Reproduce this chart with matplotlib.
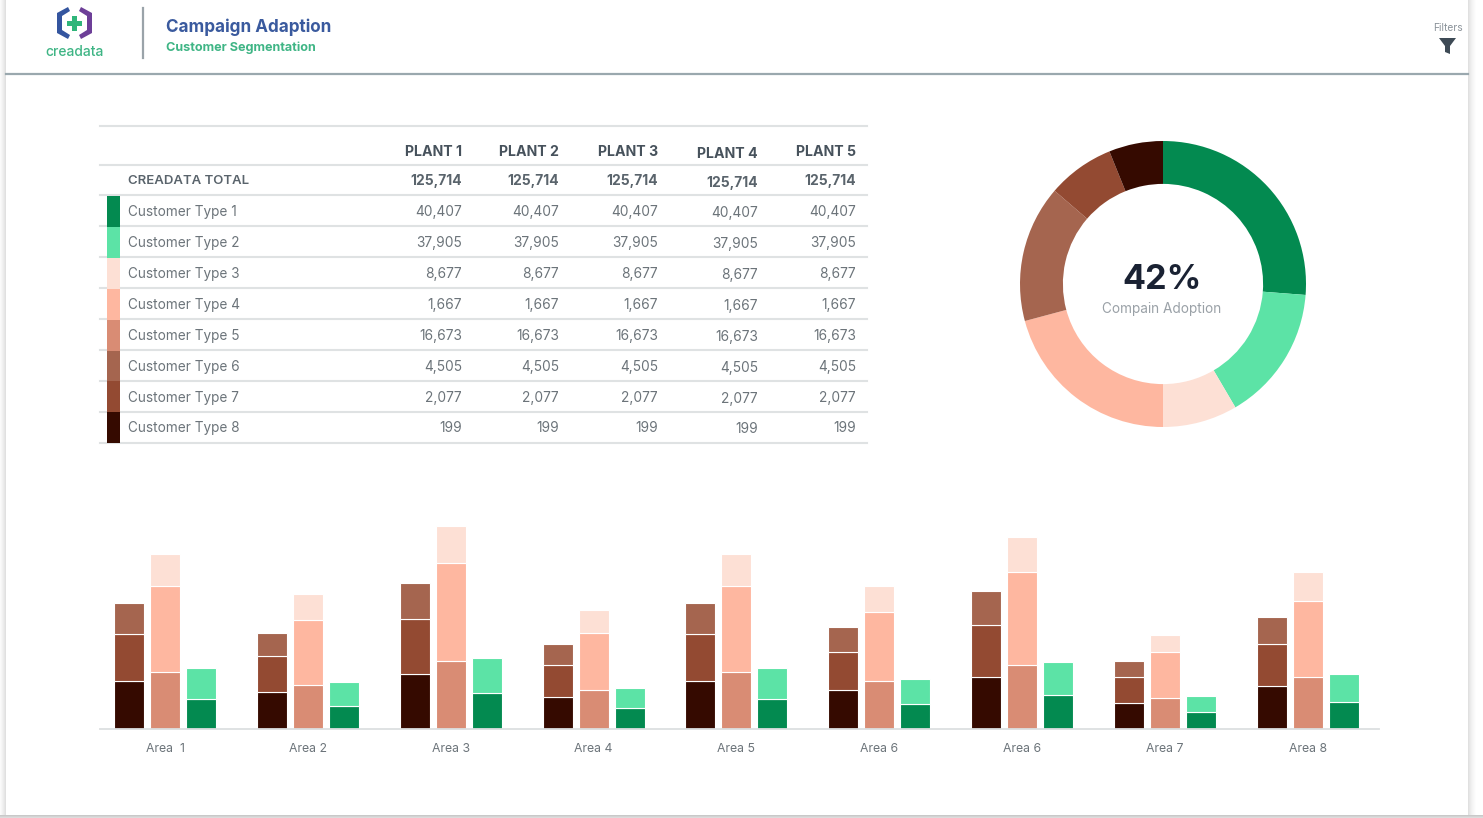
import matplotlib
matplotlib.use("Agg")
import matplotlib.pyplot as plt
from matplotlib.patches import Polygon, Rectangle

plt.rcParams['font.family'] = ['Inter', 'DejaVu Sans']

W, H = 1483, 818

#-- data
plants = ["PLANT 1", "PLANT 2", "PLANT 3", "PLANT 4", "PLANT 5"]
total_row = ["125,714"] * 5
customer_types = ["Customer Type %d" % i for i in range(1, 9)]
customer_values = ["40,407", "37,905", "8,677", "1,667", "16,673", "4,505", "2,077", "199"]
colors = ["#038a50", "#5ce3a6", "#fde0d5", "#feb7a0", "#d98c74", "#a5654f", "#934a32", "#350a00"]

donut_shares = [94.4, 55.2, 30.4, 75.0, 55.7, 27.3, 22.0]
donut_colors = ["#038a50", "#5ce3a6", "#fde0d5", "#feb7a0", "#a5654f", "#934a32", "#350a00"]

areas = ["Area  1", "Area 2", "Area 3", "Area 4", "Area 5", "Area 6", "Area 6", "Area 7", "Area 8"]
type8 = [48, 37, 55, 32, 48, 39, 52, 26, 43]
type7 = [47, 36, 55, 32, 47, 38, 52, 26, 42]
type6 = [30, 23, 35, 21, 30, 25, 33, 16, 27]
type5 = [57, 44, 68, 39, 57, 48, 64, 31, 52]
type4 = [85, 65, 97, 57, 85, 68, 92, 46, 75]
type3 = [32, 25, 37, 22, 32, 26, 35, 17, 29]
type1 = [30, 23, 36, 21, 30, 25, 34, 17, 27]
type2 = [31, 24, 35, 20, 31, 25, 33, 16, 28]

fig = plt.figure(figsize=(W / 100, H / 100), dpi=100, facecolor="white")

#-- page layer in pixel coordinates
bg = fig.add_axes([0, 0, 1, 1])
bg.set_xlim(0, W); bg.set_ylim(H, 0); bg.axis("off")

#-- soft shadow round the page
for x, c in zip(range(6), ["#fafafa", "#f6f6f6", "#f1f1f1", "#ececec", "#e6e6e6", "#e0e0e0"]):
    bg.add_patch(Rectangle((x, 0), 1, H, fc=c, ec="none"))
for x, c in zip(range(1468, 1476), ["#e0e0e0", "#e6e6e6", "#ebebeb", "#f0f0f0", "#f4f4f4", "#f7f7f7", "#fafafa", "#fdfdfd"]):
    bg.add_patch(Rectangle((x, 0), 1, H, fc=c, ec="none"))
for y, c in zip(range(815, 818), ["#c9c9c9", "#d3d3d3", "#dcdcdc"]):
    bg.add_patch(Rectangle((0, y), W, 1, fc=c, ec="none"))

bg.plot([6, 1468], [74, 74], color="#9aa8ae", lw=1.6)
bg.plot([143, 143], [8, 58], color="#9aa3a9", lw=1.6)

#-- logo
bg.add_patch(Polygon([[68, 7], [57, 13], [57, 33], [68, 39], [70, 35], [62, 30], [62, 16], [70, 11]], fc="#34559f", ec="none"))
bg.add_patch(Polygon([[81, 7], [92, 13], [92, 33], [81, 39], [79, 35], [87, 30], [87, 16], [79, 11]], fc="#6d3f98", ec="none"))
bg.add_patch(Rectangle((71.5, 15.5), 5.5, 15, fc="#2fb57a", ec="none"))
bg.add_patch(Rectangle((67, 20.5), 14.5, 5.5, fc="#2fb57a", ec="none"))
bg.text(74.5, 52, "creadata", ha="center", va="center", color="#3fb585", fontsize=10, fontweight="medium")

bg.text(166, 27, "Campaign Adaption", va="center", color="#3a5a9e", fontsize=12.3, fontweight="bold")
bg.text(166, 47.5, "Customer Segmentation", va="center", color="#3fb585", fontsize=9.1, fontweight="bold")

bg.text(1448, 28, "Filters", ha="center", va="center", color="#8a9299", fontsize=7.4)
bg.add_patch(Polygon([[1439, 38], [1456, 38], [1450, 46], [1450, 54], [1445, 52], [1445, 46]], fc="#3d4a55", ec="none"))

#-- table
col_right = [462, 559, 658, 758, 856]
col_shift = [0, 0, 0, 1, 0]
rule_y = [126, 165, 195, 226, 257, 288, 319, 350, 381, 412, 443]
row_y = [211, 242, 273, 304, 335, 366, 397, 427]
for y in rule_y:
    bg.plot([100, 867], [y, y], color="#dfe2e3", lw=1.5, zorder=1)

for x, dy, name, tot in zip(col_right, col_shift, plants, total_row):
    bg.text(x, 152.5 + dy, name, ha="right", va="center", color="#47525c", fontsize=10.2, fontweight="bold")
    bg.text(x, 181.5 + dy, tot, ha="right", va="center", color="#5a646c", fontsize=10, fontweight="bold")
bg.text(128, 181, "CREADATA TOTAL", va="center", color="#5a646c", fontsize=9.5, fontweight="semibold")

for i, (y, name, val) in enumerate(zip(row_y, customer_types, customer_values)):
    top = 196 + 30.9 * i
    bg.add_patch(Rectangle((107, top), 13, 30.9, fc=colors[i], ec="none", zorder=2))
    bg.text(128, y + 1, name, va="center", color="#6c747a", fontsize=9.8)
    for x, dy in zip(col_right, col_shift):
        bg.text(x, y + 1 + dy, val, ha="right", va="center", color="#6c747a", fontsize=9.9)

#-- donut
cx, cy, r = 1163, 284, 143
dn = fig.add_axes([(cx - r) / W, 1 - (cy + r) / H, 2 * r / W, 2 * r / H])
dn.pie(donut_shares, colors=donut_colors, startangle=90, counterclock=False, radius=1,
       wedgeprops=dict(width=0.3, edgecolor="none"))
dn.set_xlim(-1, 1); dn.set_ylim(-1, 1)
bg.text(1162, 280, "42%", ha="center", va="center", color="#1a2233", fontsize=24.6, fontweight="bold")
bg.text(1162, 309, "Compain Adoption", ha="center", va="center", color="#9aa1a7", fontsize=9.8)

#-- stacked bars, one axis unit per area
x0, x1, base, top = 100, 1379, 729, 500
step = 142.85
ax = fig.add_axes([x0 / W, 1 - base / H, (x1 - x0) / W, (base - top) / H])
ax.patch.set_alpha(0)
ax.set_xlim((x0 - 165) / step, (x1 - 165) / step)
ax.set_ylim(0, base - top - 1)
width, off = 30 / step, 36 / step
pos = list(range(len(areas)))


def stack(xs, series, cols):
    bottom = [0] * len(xs)
    for vals, c in zip(series, cols):
        ax.bar(xs, vals, width, bottom=bottom, color=c, edgecolor="white", linewidth=0.8)
        bottom = [b + v for b, v in zip(bottom, vals)]


stack([p - off for p in pos], [type8, type7, type6], [colors[7], colors[6], colors[5]])
stack(pos, [type5, type4, type3], [colors[4], colors[3], colors[2]])
stack([p + off for p in pos], [type1, type2], [colors[0], colors[1]])

for s in ["top", "left", "right"]:
    ax.spines[s].set_visible(False)
ax.spines["bottom"].set_color("#dcdfe0")
ax.spines["bottom"].set_linewidth(1.3)
ax.set_yticks([])
ax.set_xticks(pos)
ax.set_xticklabels(areas, color="#6c747a", fontsize=8.8)
ax.tick_params(axis="x", length=0, pad=10)

fig.savefig("out.png", dpi=100, facecolor=fig.get_facecolor())
